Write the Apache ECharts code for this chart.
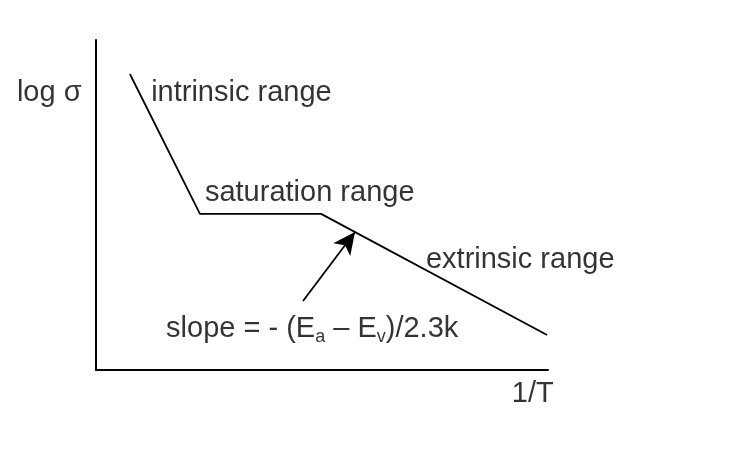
<!DOCTYPE html>
<html><head><meta charset="utf-8">
<script src="https://cdn.jsdelivr.net/npm/echarts@6/dist/echarts.min.js"></script>
<style>html,body{margin:0;padding:0;background:#fff}#c{width:749px;height:476px}</style>
</head><body><div id="c"></div>
<script>
// curve: log sigma vs 1/T (arbitrary units, 0..100)
const curveX = [7.5, 23.0, 49.8, 99.8];
const curveY = [89.7, 47.3, 47.3, 10.6];
// slope arrow: tail -> head
const arrowFrom = [45.8, 20.9];
const arrowTo = [57.3, 41.8];
// text annotations
const labelText = ['intrinsic range', 'saturation range', 'extrinsic range', '{n|slope = - (E}{s|a}{n| – E}{s|v}{n|)/2.3k}', 'log σ', '1/T'];
const labelX = [12.2, 24.1, 73.0, 15.5, -17.5, 92.0];
const labelY = [83.9, 53.6, 33.3, 12.4, 83.9, -7.3];

const chart = echarts.init(document.getElementById('c'), null, {renderer:'canvas'});
const font = 'Liberation Sans, Arial, sans-serif';
chart.setOption({
  animation:false,
  backgroundColor:'#fff',
  grid:{left:96, top:40, right:201, bottom:106},
  xAxis:{type:'value', min:0, max:100, axisLine:{lineStyle:{color:'#000', width:2}}, axisTick:{show:false}, axisLabel:{show:false}, splitLine:{show:false}},
  yAxis:{type:'value', min:0, max:100, axisLine:{show:true, onZero:false, lineStyle:{color:'#000', width:2}}, axisTick:{show:false}, axisLabel:{show:false}, splitLine:{show:false}},
  series:[
    {type:'line', data:curveX.map((x,i)=>[x,curveY[i]]), symbol:'none', lineStyle:{color:'#000', width:1.8}, clip:false,
     markLine:{silent:true, symbol:['none','arrow'], symbolSize:[16,22], lineStyle:{color:'#000', width:1.8, type:'solid'}, label:{show:false},
       data:[[{coord:arrowFrom},{coord:arrowTo}]]}},
    {type:'scatter', clip:false, symbolSize:0, data:labelX.map((x,i)=>({value:[x,labelY[i]], name:labelText[i]})),
     label:{show:true, position:'right', distance:0, align:'left', verticalAlign:'middle', color:'#000', fontFamily:font, fontSize:29,
       formatter:p=>p.name,
       rich:{n:{fontFamily:font, fontSize:29, color:'#000'}, s:{fontFamily:font, fontSize:18, color:'#000', verticalAlign:'bottom', padding:[15,0,0,0]}}}}
  ]
});
</script></body></html>
